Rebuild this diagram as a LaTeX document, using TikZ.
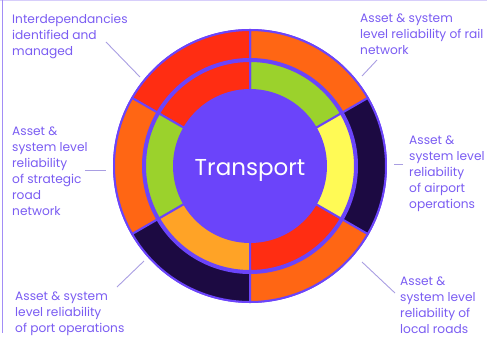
\documentclass[tikz,border=0pt]{standalone}
\usepackage{fontspec}
\setmainfont{Poppins}
\usetikzlibrary{calc}
\definecolor{ringpurple}{HTML}{6B44FA}
\definecolor{ringred}{HTML}{FF2D12}
\definecolor{ringorange}{HTML}{FF6614}
\definecolor{ringnavy}{HTML}{1C0A42}
\definecolor{ringgreen}{HTML}{9BD22C}
\definecolor{ringyellow}{HTML}{FFFA55}
\definecolor{ringamber}{HTML}{FFA326}
\definecolor{labelpurple}{HTML}{7A5CF2}
\definecolor{leadergrey}{HTML}{A99EE2}
\tikzstyle{label}=[anchor=north west,
                   align=left,
                   inner sep=0pt,
                   text=labelpurple,
                   font=\fontsize{12.2}{15.9}\selectfont]
\tikzstyle{leader}=[draw=leadergrey,
                    line width=0.9pt]
\tikzstyle{sector}=[draw=ringpurple,
                    line width=2pt]
\begin{document}
\begin{tikzpicture}[x=1pt,y=1pt]
      \useasboundingbox (-250,-179) rectangle (237,166);
      \draw[draw=labelpurple!30, line width=1.2pt] (-250,165.6) -- (237,165.6);
      \draw[draw=labelpurple!70, line width=1.2pt] (-247.5,166) -- (-247.5,-167);

      % rings
      \fill[ringpurple] (0,0) circle (137);
      \foreach \a/\outer/\inner in {30/ringorange/ringgreen,
                                    90/ringred/ringred,
                                    150/ringorange/ringgreen,
                                    210/ringnavy/ringamber,
                                    270/ringorange/ringred,
                                    330/ringnavy/ringyellow} {
        \filldraw[sector, fill=\outer] (\a:107) arc (\a:\a+60:107)
            -- (\a+60:136) arc (\a+60:\a:136) -- cycle;
        \filldraw[sector, fill=\inner] (\a:76) arc (\a:\a+60:76)
            -- (\a+60:105) arc (\a+60:\a:105) -- cycle;
      }
      \node[text=white, font=\fontsize{23}{26}\selectfont] (transport) at (0,-4) {Transport};

      % labels
      \node[label] (interdep) at (-238,152) {Interdependancies\\identified and\\managed};
      \node[label] (rail)     at (110,152)  {Asset \& system\\level reliability of rail\\network};
      \node[label] (road)     at (-238,39)  {Asset \&\\system level\\reliability\\of strategic\\road\\network};
      \node[label] (airport)  at (159,30)   {Asset \&\\system level\\reliability\\of airport\\operations};
      \node[label] (port)     at (-235,-126) {Asset \& system\\level reliability\\of port operations};
      \node[label] (local)    at (150,-111)  {Asset \&\\system level\\reliability of\\local roads};

      % leader lines
      \coordinate (interdep_a) at (-144,124);  \coordinate (interdep_b) at (-110,89);
      \coordinate (rail_a)     at (127,106);   \coordinate (rail_b)     at (112,90);
      \coordinate (road_a)     at (-165,-4);   \coordinate (road_b)     at (-144,-4);
      \coordinate (airport_a)  at (153,2);     \coordinate (airport_b)  at (144,2);
      \coordinate (port_a)     at (-133,-121); \coordinate (port_b)     at (-106,-95);
      \coordinate (local_a)    at (145,-127);  \coordinate (local_b)    at (112,-96);
      \foreach \n in {interdep,rail,road,airport,port,local}
        \draw[leader] (\n_a) -- (\n_b);
\end{tikzpicture}
\end{document}
